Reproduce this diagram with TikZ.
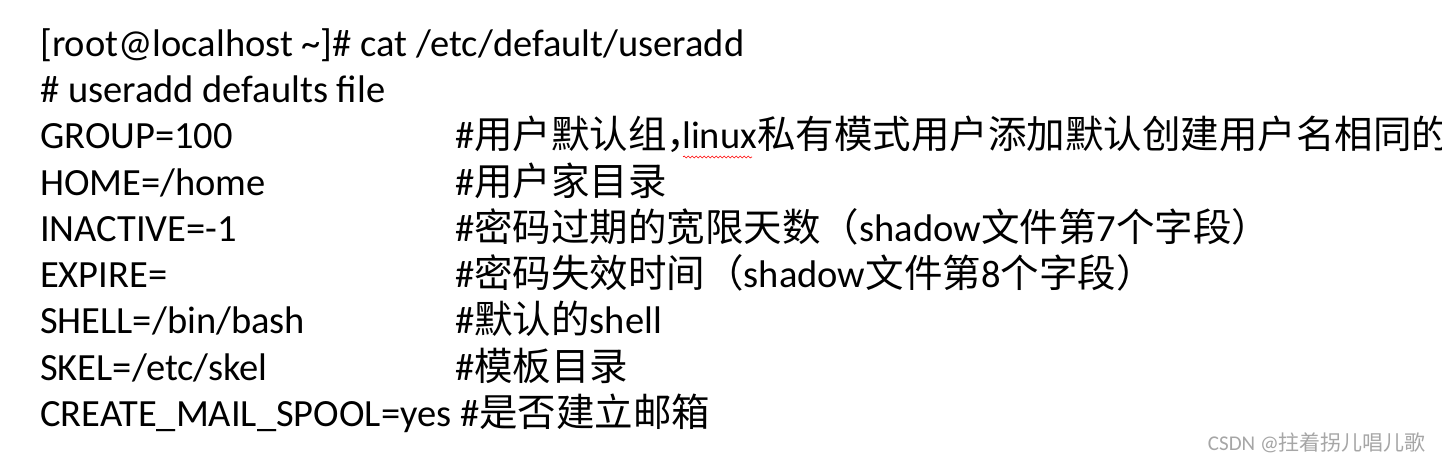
\documentclass[tikz,border=0pt]{standalone}
\usepackage{fontspec}
\setmainfont{Carlito}
\newfontfamily\cjk{Noto Sans CJK SC}
\usetikzlibrary{decorations.pathmorphing}
\begin{document}
\begin{tikzpicture}[x=1pt,y=1pt,
  txt/.style={anchor=base west,inner sep=0pt,font=\fontsize{38.5}{40}\selectfont},
  wm/.style={anchor=base east,inner sep=0pt,text=gray!70,font=\fontsize{21}{24}\selectfont}]
\useasboundingbox (0,0) rectangle (1442,465);
\fill[white] (0,0) rectangle (1442,465);
\node[txt] (l1) at (40,465-57) {[root@localhost \textasciitilde]\# cat /etc/default/useradd};
\node[txt] (l2) at (40,465-103) {\# useradd defaults file};
\node[txt] (l3) at (40,465-149) {GROUP=100};
\node[txt] (l4) at (40,465-196) {HOME=/home};
\node[txt] (l5) at (40,465-242) {INACTIVE=-1};
\node[txt] (l6) at (40,465-288) {EXPIRE=};
\node[txt] (l7) at (40,465-334) {SHELL=/bin/bash};
\node[txt] (l8) at (40,465-381) {SKEL=/etc/skel};
\node[txt] (l9) at (40,465-427) {CREATE\_MAIL\_SPOOL=yes \#{\cjk 是否建立邮箱}};
\node[txt] (c3) at (455,465-149) {\#{\cjk 用户默认组\makebox[0.4em][l]{，}}linux{\cjk 私有模式用户添加默认创建用户名相同的组}};
\node[txt] (c4) at (455,465-196) {\#{\cjk 用户家目录}};
\node[txt] (c5) at (455,465-242) {\#{\cjk 密码过期的宽限天数（}shadow{\cjk 文件第}7{\cjk 个字段）}};
\node[txt] (c6) at (455,465-288) {\#{\cjk 密码失效时间（}shadow{\cjk 文件第}8{\cjk 个字段）}};
\node[txt] (c7) at (455,465-334) {\#{\cjk 默认的}shell};
\node[txt] (c8) at (455,465-381) {\#{\cjk 模板目录}};
\draw[red,line width=0.6pt,decorate,decoration={snake,amplitude=1pt,segment length=4pt}] (683,465-157) -- (752,465-157);
\node[wm] (w) at (1426,465-451) {CSDN @{\cjk 拄着拐儿唱儿歌}};
\end{tikzpicture}
\end{document}
